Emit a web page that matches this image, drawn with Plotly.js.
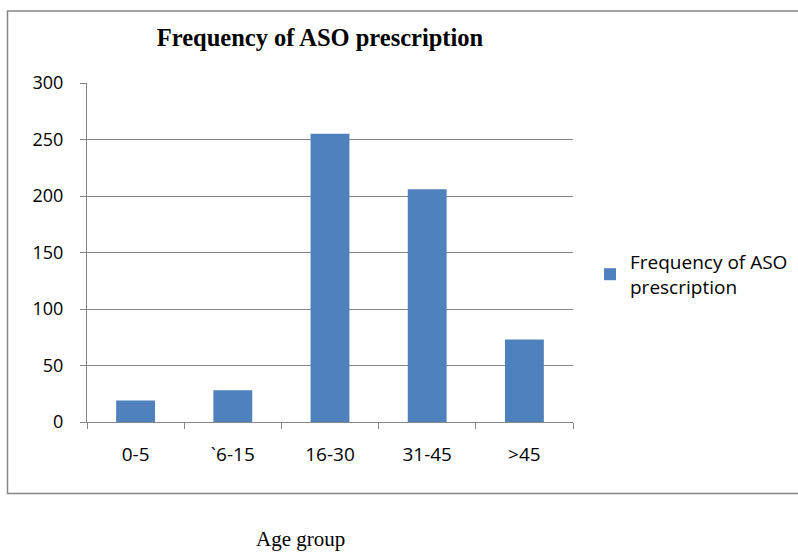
<!DOCTYPE html>
<html>
<head>
<meta charset="utf-8">
<script src="https://cdn.plot.ly/plotly-3.0.1.min.js"></script>
<style>html,body{margin:0;padding:0;background:#fff;}#chart{width:798px;height:552px;}</style>
</head>
<body>
<div id="chart"></div>
<script>
const categories = ["0-5", "`6-15", "16-30", "31-45", ">45"];
const frequency = [19, 28, 255, 206, 73];
const seriesName = "Frequency of ASO<br>prescription";
const yTicks = [0, 50, 100, 150, 200, 250, 300];

const W = 798, H = 552;
const L = 87, R = 225, T = 83, B = 130;
const pw = W - L - R, ph = H - T - B;
function px2x(p){ return (p - L) / pw; }
function py2y(p){ return (H - B - p) / ph; }

const trace = {
  type: "bar",
  x: categories,
  y: frequency,
  name: seriesName,
  marker: {color: "#4f81bd"},
  showlegend: true
};

const layout = {
  width: W, height: H,
  margin: {l: L, r: R, t: T, b: B, pad: 0, autoexpand: false},
  paper_bgcolor: "#ffffff",
  plot_bgcolor: "#ffffff",
  bargap: 0.6,
  showlegend: true,
  title: {
    text: "<b>Frequency of ASO prescription</b>",
    font: {family: "Liberation Serif, Times New Roman, serif", size: 24.5, color: "#000"},
    x: 320 / W, xanchor: "center", xref: "container",
    y: 1 - 37.5 / H, yanchor: "middle", yref: "container"
  },
  xaxis: {
    type: "category",
    showline: true, linecolor: "#868686", linewidth: 1,
    ticks: "outside", tickson: "boundaries", ticklen: 6, tickcolor: "#868686",
    tickfont: {family: "Open Sans, sans-serif", size: 19, color: "#000"},
    ticklabelstandoff: 15,
    showgrid: false, zeroline: false,
    fixedrange: true
  },
  yaxis: {
    range: [0, 300],
    tickvals: yTicks,
    showline: true, linecolor: "#868686", linewidth: 1,
    ticks: "outside", ticklen: 6, tickcolor: "#868686",
    showgrid: true, gridcolor: "#868686", gridwidth: 1,
    zeroline: false,
    tickfont: {family: "Open Sans, sans-serif", size: 18, color: "#000"},
    ticklabelstandoff: 13,
    fixedrange: true
  },
  legend: {
    x: px2x(590), xanchor: "left",
    y: py2y(243), yanchor: "top",
    font: {family: "Open Sans, sans-serif", size: 19, color: "#000"},
    bgcolor: "rgba(0,0,0,0)",
    itemwidth: 30
  },
  annotations: [{
    text: "Age group",
    xref: "paper", yref: "paper",
    x: px2x(300), y: py2y(539),
    xanchor: "center", yanchor: "middle",
    showarrow: false,
    font: {family: "Liberation Serif, Times New Roman, serif", size: 21, color: "#000"}
  }],
  shapes: [{
    type: "rect", xref: "paper", yref: "paper",
    x0: px2x(7.5), x1: px2x(805), y0: py2y(493.5), y1: py2y(11),
    line: {color: "#868686", width: 1.5},
    fillcolor: "rgba(0,0,0,0)", layer: "below"
  }]
};

Plotly.newPlot("chart", [trace], layout, {displayModeBar: false, staticPlot: true});
</script>
</body>
</html>
